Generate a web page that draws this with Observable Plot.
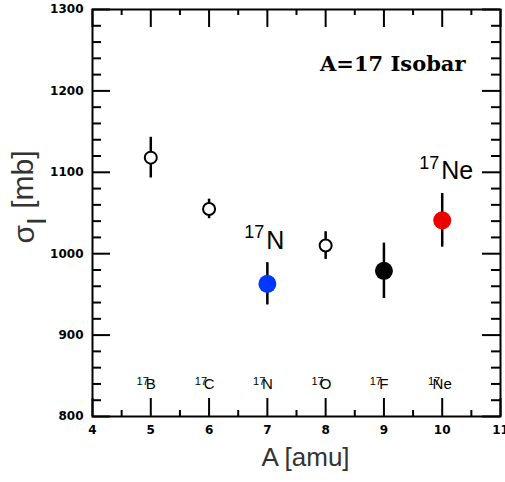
<!DOCTYPE html>
<html>
<head>
<meta charset="utf-8">
<script src="https://cdn.jsdelivr.net/npm/d3@7"></script>
<script src="https://cdn.jsdelivr.net/npm/@observablehq/plot@0.6"></script>
<style>
  body { margin: 0; background: #fff; }
  #chart svg { display: block; }
</style>
</head>
<body>
<div id="chart"></div>
<script>
// ---- data ----
const elements   = ["B", "C", "N", "O", "F", "Ne"];
const massNumber = "17";
const massA      = [5, 6, 7, 8, 9, 10];
const sigmaI     = [1118, 1055, 963, 1010, 979, 1041];
const sigmaErr   = [25, 12, 26, 17, 34, 33];
const markerFill = ["white", "white", "#0038ff", "white", "black", "#ee0000"];
const markerOpen = [true, true, false, true, false, false];
const highlighted = ["N", "Ne"];

const xTicks      = [4, 5, 6, 7, 8, 9, 10, 11];
const xMinorTicks = [4.5, 5.5, 6.5, 7.5, 8.5, 9.5, 10.5];
const yTicks      = [800, 900, 1000, 1100, 1200, 1300];
const yMinorTicks = [820, 840, 860, 880, 920, 940, 960, 980, 1020, 1040, 1060, 1080,
                     1120, 1140, 1160, 1180, 1220, 1240, 1260, 1280];

const titleText = "A=17 Isobar";
const xLabel = "A [amu]";
const yLabelMain = "σ", yLabelSub = "I", yLabelUnit = " [mb]";

// ---- build table ----
const data = elements.map((el, i) => ({
  el, A: massA[i], s: sigmaI[i], e: sigmaErr[i],
  fill: markerFill[i], open: markerOpen[i],
  hi: highlighted.includes(el)
}));

const W = 505, H = 482;
const mL = 92, mR = 5, mT = 9, mB = 66;
const innerW = W - mL - mR, innerH = H - mT - mB;
const majorLen = 18, xMinorLen = 6, yMinorLen = 9;
const sans = "Liberation Sans, Arial, sans-serif";

const plot = Plot.plot({
  width: W, height: H,
  marginLeft: mL, marginRight: mR, marginTop: mT, marginBottom: mB,
  style: { fontFamily: sans, background: "white", overflow: "visible" },
  x: { domain: [4, 11] },
  y: { domain: [800, 1300] },
  marks: [
    // tick labels
    Plot.axisX(xTicks, { tickSize: 0, tickPadding: 9, fontSize: 12, fontWeight: "bold",
                         fontFamily: "DejaVu Sans", fill: "black", label: null, tickFormat: d => String(d) }),
    Plot.axisY(yTicks, { tickSize: 0, tickPadding: 9, fontSize: 12, fontWeight: "bold",
                         fontFamily: "DejaVu Sans", fill: "black", label: null, tickFormat: d => String(d) }),
    // inward ticks: bottom, top
    Plot.ruleX(xTicks, { x: d => d, insetTop: innerH - majorLen, stroke: "black", strokeWidth: 2 }),
    Plot.ruleX(xTicks, { x: d => d, insetBottom: innerH - majorLen, stroke: "black", strokeWidth: 2 }),
    Plot.ruleX(xMinorTicks, { x: d => d, insetTop: innerH - xMinorLen, stroke: "black", strokeWidth: 2 }),
    Plot.ruleX(xMinorTicks, { x: d => d, insetBottom: innerH - xMinorLen, stroke: "black", strokeWidth: 2 }),
    // inward ticks: left, right
    Plot.ruleY(yTicks, { y: d => d, insetRight: innerW - majorLen, stroke: "black", strokeWidth: 2 }),
    Plot.ruleY(yTicks, { y: d => d, insetLeft: innerW - majorLen, stroke: "black", strokeWidth: 2 }),
    Plot.ruleY(yMinorTicks, { y: d => d, insetRight: innerW - yMinorLen, stroke: "black", strokeWidth: 2 }),
    Plot.ruleY(yMinorTicks, { y: d => d, insetLeft: innerW - yMinorLen, stroke: "black", strokeWidth: 2 }),
    Plot.frame({ stroke: "black", strokeWidth: 2 }),

    // error bars
    Plot.ruleX(data, { x: "A", y1: d => d.s - d.e, y2: d => d.s + d.e, stroke: "black", strokeWidth: 2.5 }),
    // markers
    Plot.dot(data.filter(d => d.open), { x: "A", y: "s", r: 6, fill: "white", stroke: "black", strokeWidth: 2 }),
    Plot.dot(data.filter(d => !d.open), { x: "A", y: "s", r: 9, fill: d => d.fill, stroke: "none" }),

    // nuclide labels along the bottom
    Plot.text(data, { x: "A", text: d => d.el, frameAnchor: "bottom", dy: -28,
                      textAnchor: "middle", fontSize: 15, fill: "black" }),
    Plot.text(data, { x: "A", text: () => massNumber, frameAnchor: "bottom", dy: -32,
                      textAnchor: "end", dx: -2, fontSize: 11, fill: "black" }),

    // highlighted big labels
    Plot.text(data.filter(d => d.hi), { x: "A", y: d => d.s + d.e, text: d => d.el, dy: -22, dx: -1,
                      textAnchor: "start", fontSize: 25, fill: "black" }),
    Plot.text(data.filter(d => d.hi), { x: "A", y: d => d.s + d.e, text: () => massNumber, dy: -30, dx: -3,
                      textAnchor: "end", fontSize: 18, fill: "black" }),

    // title
    Plot.text([titleText], { text: d => d, frameAnchor: "top-right", dx: -35, dy: 47,
                      textAnchor: "end", fontSize: 21, fontWeight: "bold",
                      fontFamily: "DejaVu Serif", fill: "black" }),
    // axis titles
    Plot.text([xLabel], { text: d => d, frameAnchor: "bottom", dx: 9, dy: 49,
                      textAnchor: "middle", fontSize: 26, fill: "#333" }),
    Plot.text([yLabelMain + yLabelSub + yLabelUnit], { text: d => d, frameAnchor: "left", rotate: -90,
                      dx: -68, dy: -16, textAnchor: "middle", fontSize: 30, fill: "#333",
                      ariaLabel: () => "ylabel" })
  ]
});

// rich text for the y label: σ with subscript I
d3.select(plot).selectAll('[aria-label="ylabel"]').each(function () {
  const t = this.tagName.toLowerCase() === "text" ? d3.select(this) : d3.select(this).select("text");
  t.text(null);
  t.append("tspan").text(yLabelMain);
  t.append("tspan").attr("dy", "0.42em").attr("font-size", 28).text(yLabelSub);
  t.append("tspan").attr("dy", "-0.42em").text(yLabelUnit);
});

document.getElementById("chart").append(plot);
</script>
</body>
</html>
